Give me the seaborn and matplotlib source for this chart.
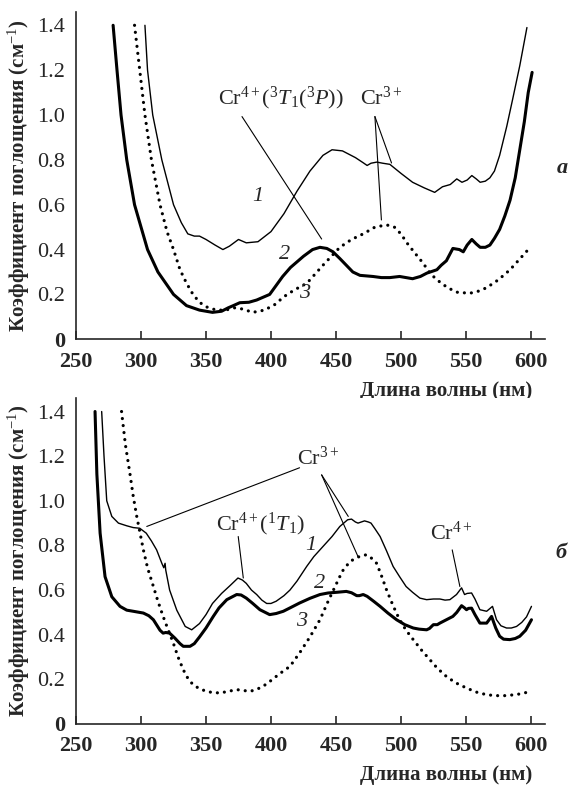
import numpy as np
import pandas as pd
import matplotlib
matplotlib.use('Agg')
import matplotlib.pyplot as plt
import seaborn as sns

# ---- panel a ----
wl_a1 = [303, 305, 309, 316, 325, 331, 336, 341, 345, 350, 357, 363, 368, 375, 381, 390,
         400, 410, 420, 430, 440, 447, 455, 465, 471, 474, 477, 481.5, 486, 491.5, 500,
         509, 518, 526, 532, 538, 543, 547, 551, 554.6, 558, 561, 565, 568.5, 572, 576,
         581.5, 586, 591.5, 597]
ab_a1 = [1.40, 1.20, 1.00, 0.80, 0.60, 0.52, 0.47, 0.46, 0.46, 0.445, 0.42, 0.40, 0.415,
         0.445, 0.43, 0.435, 0.48, 0.56, 0.66, 0.75, 0.82, 0.845, 0.84, 0.81, 0.787, 0.775,
         0.785, 0.79, 0.785, 0.78, 0.74, 0.70, 0.675, 0.655, 0.68, 0.69, 0.715, 0.70, 0.71,
         0.73, 0.715, 0.70, 0.705, 0.72, 0.75, 0.82, 0.95, 1.07, 1.22, 1.39]

wl_a2 = [278.5, 281.5, 284.6, 289, 295, 305, 313, 325, 335, 345, 355, 362, 367, 371, 376,
         383, 389, 399, 404, 409, 415, 425, 432, 437.7, 443, 447.7, 453, 458, 463, 468.5,
         478.5, 485, 491.5, 499, 504, 509, 515, 520, 527.7, 531, 535, 540, 545, 548, 551,
         554.6, 558, 561, 565, 568.5, 572, 576, 580, 584, 588, 591.5, 595, 598, 601]
ab_a2 = [1.40, 1.20, 1.00, 0.80, 0.60, 0.40, 0.30, 0.20, 0.15, 0.13, 0.12, 0.125, 0.14,
         0.15, 0.163, 0.165, 0.175, 0.20, 0.24, 0.28, 0.32, 0.37, 0.40, 0.41, 0.405, 0.39,
         0.36, 0.33, 0.30, 0.285, 0.28, 0.275, 0.275, 0.28, 0.275, 0.27, 0.28, 0.295, 0.31,
         0.33, 0.35, 0.405, 0.40, 0.39, 0.42, 0.445, 0.425, 0.41, 0.41, 0.42, 0.45, 0.49,
         0.55, 0.62, 0.72, 0.845, 0.97, 1.10, 1.19]

wl_a3 = [295, 299, 303, 308, 314.6, 320, 325, 330, 335, 340, 345, 350, 358, 365, 372, 378,
         386, 395, 403, 410, 418, 427.7, 440, 453, 462, 471, 480, 489, 495, 500, 504.6,
         510, 517, 523, 530, 536, 543, 553, 560, 566, 575, 584, 591, 598]
ab_a3 = [1.40, 1.20, 1.00, 0.80, 0.60, 0.48, 0.40, 0.31, 0.25, 0.20, 0.165, 0.145, 0.13,
         0.13, 0.14, 0.135, 0.12, 0.13, 0.155, 0.19, 0.22, 0.25, 0.33, 0.41, 0.445, 0.47,
         0.50, 0.51, 0.50, 0.47, 0.43, 0.39, 0.34, 0.29, 0.255, 0.23, 0.21, 0.205, 0.215,
         0.23, 0.265, 0.31, 0.355, 0.40]

# ---- panel b ----
wl_b1 = [269.7, 271.5, 273.6, 277.5, 282.6, 289, 294, 299, 304, 308, 312, 316, 317.5,
         318.5, 319, 322, 327.5, 334, 339, 345, 350, 355, 362, 368.5, 374.6, 378, 381, 385,
         389, 393, 396.7, 400, 404, 410, 414.6, 420, 427.5, 433, 440, 447, 453, 459, 462,
         465, 467, 472, 475, 477, 480, 484, 489, 494, 499, 504, 509, 514.6, 519.8, 525,
         530, 534, 537.7, 542.8, 546.7, 549, 551, 554.4, 557, 560.8, 566, 570.5, 573.6,
         577, 581.3, 585, 589, 593, 596.7, 600.5]
ab_b1 = [1.40, 1.20, 1.00, 0.93, 0.90, 0.888, 0.88, 0.877, 0.855, 0.82, 0.78, 0.72, 0.70,
         0.72, 0.69, 0.60, 0.51, 0.437, 0.422, 0.45, 0.49, 0.54, 0.585, 0.62, 0.654, 0.645,
         0.63, 0.60, 0.58, 0.555, 0.54, 0.54, 0.55, 0.575, 0.60, 0.64, 0.706, 0.75, 0.795,
         0.84, 0.885, 0.915, 0.918, 0.905, 0.90, 0.91, 0.905, 0.90, 0.875, 0.84, 0.775,
         0.706, 0.66, 0.616, 0.59, 0.564, 0.557, 0.56, 0.56, 0.555, 0.557, 0.58, 0.61, 0.58,
         0.585, 0.587, 0.56, 0.512, 0.505, 0.527, 0.467, 0.44, 0.43, 0.43, 0.437, 0.455,
         0.48, 0.527]

wl_b2 = [264.6, 266, 268.5, 272.3, 277.5, 283.8, 289, 294, 301.8, 306, 309.5, 314.6, 317,
         319, 322, 326, 330, 332.5, 337.7, 341, 345, 350, 355.6, 360, 366, 373.6, 377, 381,
         386, 391.5, 399, 404, 409.5, 414.6, 422, 430, 437.7, 444, 450.5, 458, 462, 466,
         468, 471, 474, 479, 484, 490, 496.7, 503, 509.5, 514, 519.8, 522, 525, 528, 530,
         535, 540, 543, 546.7, 549, 550.5, 552, 554.4, 557, 560.8, 566, 569.8, 573, 576,
         579, 583.8, 588, 591.5, 596, 600.5]
ab_b2 = [1.40, 1.12, 0.855, 0.66, 0.57, 0.527, 0.51, 0.505, 0.497, 0.485, 0.467, 0.42,
         0.407, 0.41, 0.407, 0.385, 0.36, 0.348, 0.348, 0.36, 0.39, 0.43, 0.482, 0.52,
         0.557, 0.58, 0.578, 0.564, 0.54, 0.512, 0.49, 0.495, 0.505, 0.52, 0.542, 0.563,
         0.58, 0.587, 0.59, 0.594, 0.588, 0.575, 0.575, 0.58, 0.572, 0.55, 0.527, 0.497,
         0.467, 0.445, 0.43, 0.425, 0.422, 0.428, 0.445, 0.445, 0.452, 0.467, 0.482, 0.50,
         0.53, 0.52, 0.512, 0.518, 0.519, 0.49, 0.452, 0.452, 0.482, 0.43, 0.393, 0.38,
         0.378, 0.383, 0.393, 0.42, 0.467]

wl_b3 = [285, 288, 291.5, 294, 296.7, 301.8, 305, 309.5, 313, 317, 321, 324.8, 328.5,
         332.5, 336, 340, 345, 350.5, 355, 360.8, 367, 373.6, 379, 383.8, 389, 394, 399,
         404, 409, 414.6, 422, 430, 437.7, 444, 450.5, 455, 460.8, 466, 470, 473.6, 477,
         481.3, 485, 489, 494, 499, 504, 509.5, 516, 522.3, 528, 535, 542, 550.5, 558, 566,
         573, 581.3, 590, 600.5]
ab_b3 = [1.40, 1.25, 1.12, 1.02, 0.93, 0.78, 0.70, 0.616, 0.55, 0.482, 0.42, 0.363, 0.30,
         0.243, 0.205, 0.176, 0.158, 0.146, 0.141, 0.139, 0.146, 0.154, 0.15, 0.146, 0.155,
         0.169, 0.19, 0.213, 0.235, 0.258, 0.318, 0.39, 0.467, 0.55, 0.63, 0.685, 0.728,
         0.745, 0.755, 0.758, 0.745, 0.72, 0.665, 0.60, 0.53, 0.467, 0.42, 0.378, 0.33,
         0.288, 0.25, 0.213, 0.185, 0.161, 0.143, 0.131, 0.127, 0.127, 0.133, 0.146]

x_ticks = [250, 300, 350, 400, 450, 500, 550, 600]
y_ticks = [0, 0.2, 0.4, 0.6, 0.8, 1.0, 1.2, 1.4]
y_tick_labels = ['0', '0.2', '0.4', '0.6', '0.8', '1.0', '1.2', '1.4']

sns.set_style('ticks')
plt.rcParams['font.family'] = ['Liberation Serif', 'DejaVu Serif']
plt.rcParams['mathtext.fontset'] = 'custom'
plt.rcParams['mathtext.rm'] = 'Liberation Serif'
plt.rcParams['mathtext.it'] = 'Liberation Serif:italic'
plt.rcParams['mathtext.bf'] = 'Liberation Serif:bold'

fig = plt.figure(figsize=(5.72, 7.89), dpi=100)
ax_a = fig.add_axes([0.133, 0.570, 0.82, 0.415])
ax_b = fig.add_axes([0.133, 0.0824, 0.82, 0.413])

thin = dict(color='black', lw=1.0)
thick = dict(color='black', lw=2.2)
dots = dict(color='black', lw=2.3, linestyle=(0, (0.01, 2.2)), dash_capstyle='round')


def draw(ax, series):
    for wl, ab, style in series:
        df = pd.DataFrame({'wl': wl, 'ab': ab})
        sns.lineplot(data=df, x='wl', y='ab', ax=ax, estimator=None, sort=False, **style)


draw(ax_a, [(wl_a1, ab_a1, thin), (wl_a2, ab_a2, thick), (wl_a3, ab_a3, dots)])
draw(ax_b, [(wl_b1, ab_b1, thin), (wl_b2, ab_b2, thick), (wl_b3, ab_b3, dots)])

ylab = 'Коэффициент поглощения (см$^{-1}$)'
for ax in (ax_a, ax_b):
    ax.set_xlim(250, 611)
    ax.set_ylim(0, 1.46)
    ax.set_xticks(x_ticks)
    ax.set_xticklabels([str(t) for t in x_ticks], fontsize=16, fontweight='bold')
    ax.set_yticks(y_ticks)
    ax.set_yticklabels(y_tick_labels, fontsize=16)
    ax.get_yticklabels()[0].set_fontweight('bold')
    ax.tick_params(axis='x', direction='in', length=6, width=1.2, pad=9)
    ax.tick_params(axis='y', length=0, pad=8)
    for s in ('top', 'right'):
        ax.spines[s].set_visible(False)
    for s in ('left', 'bottom'):
        ax.spines[s].set_linewidth(1.2)
    ax.set_xlabel('')
    ax.set_ylabel(ylab, fontsize=15, fontweight='bold', va='center')
    ax.yaxis.set_label_coords(-0.122, 0.5)
    ax.annotate('Длина волны (нм)', xy=(601, -0.158), xycoords=('data', 'axes fraction'),
                ha='right', va='center', fontsize=15, fontweight='bold', annotation_clip=False)

line = dict(arrowstyle='-', lw=0.8, color='black', shrinkA=0, shrinkB=0)
txt = dict(fontsize=16, ha='center', va='center')
num = dict(fontsize=16, style='italic', ha='center', va='center')

# panel a labels
ax_a.text(407.7, 1.075, r'Cr$^{4+}$($^{3}T_1$($^{3}P$))', **txt)
ax_a.annotate('', xy=(439, 0.447), xytext=(377.7, 0.993), arrowprops=line)
ax_a.text(485, 1.075, r'Cr$^{3+}$', **txt)
ax_a.annotate('', xy=(492.8, 0.786), xytext=(480, 0.993), arrowprops=line)
ax_a.annotate('', xy=(485, 0.532), xytext=(480, 0.993), arrowprops=line)
ax_a.text(390, 0.635, '1', **num)
ax_a.text(410.8, 0.376, '2', **num)
ax_a.text(426, 0.206, '3', **num)
ax_a.text(624.6, 0.765, 'a', fontsize=16, style='italic', fontweight='bold',
          ha='center', va='center', clip_on=False)

# panel b labels
ax_b.text(436, 1.19, r'Cr$^{3+}$', **txt)
ax_b.annotate('', xy=(459.5, 0.93), xytext=(439, 1.116), arrowprops=line)
ax_b.annotate('', xy=(467, 0.75), xytext=(439, 1.116), arrowprops=line)
ax_b.annotate('', xy=(304.4, 0.885), xytext=(422, 1.148), arrowprops=line)
ax_b.text(392.3, 0.893, r'Cr$^{4+}$($^{1}T_1$)', **txt)
ax_b.annotate('', xy=(378.7, 0.654), xytext=(374.8, 0.84), arrowprops=line)
ax_b.text(539, 0.855, r'Cr$^{4+}$', **txt)
ax_b.annotate('', xy=(545.4, 0.616), xytext=(539.5, 0.78), arrowprops=line)
ax_b.text(431, 0.80, '1', **num)
ax_b.text(437.7, 0.63, '2', **num)
ax_b.text(423.6, 0.46, '3', **num)
ax_b.text(623.6, 0.766, 'б', fontsize=16, style='italic', fontweight='bold',
          ha='center', va='center', clip_on=False)

fig.savefig('out.png', dpi=100)
